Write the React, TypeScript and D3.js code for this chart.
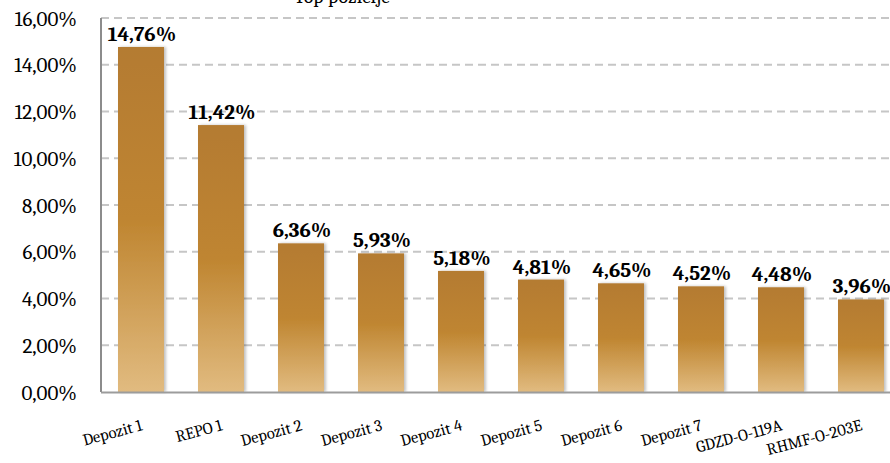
import React from "react";
import * as d3 from "d3";

const categories = ["Depozit 1", "REPO 1", "Depozit 2", "Depozit 3", "Depozit 4", "Depozit 5", "Depozit 6", "Depozit 7", "GDZD-O-119A", "RHMF-O-203E"];
const values = [14.76, 11.42, 6.36, 5.93, 5.18, 4.81, 4.65, 4.52, 4.48, 3.96];
const yTicks = [0, 2, 4, 6, 8, 10, 12, 14, 16];
const title = "Top pozicije";

const W = 890, H = 463;
const left = 101, right = 901, top = 18, bottom = 392;

const fmt = (v: number) => v.toFixed(2).replace(".", ",") + "%";

export default function App() {
  const x = d3.scaleBand<string>().domain(categories).range([left, right]).paddingInner(0.425).paddingOuter(0.2125);
  const y = d3.scaleLinear().domain([0, 16]).range([bottom, top]);
  const serif = "Cambria, 'DejaVu Serif', serif";
  return (
    <svg width={W} height={H} style={{ position: "absolute", left: 0, top: 0, background: "#fff" }}>
      <defs>
        <linearGradient id="barGrad" x1="0" y1="0" x2="0" y2="1">
          <stop offset="0%" stopColor="#b47b32" />
          <stop offset="50%" stopColor="#bf8530" />
          <stop offset="100%" stopColor="#e1bb80" />
        </linearGradient>
        <filter id="sh" x="-20%" y="-5%" width="140%" height="110%">
          <feGaussianBlur in="SourceAlpha" stdDeviation="1.5" />
          <feOffset dx="2" dy="0" result="b" />
          <feComponentTransfer><feFuncA type="linear" slope="0.25" /></feComponentTransfer>
          <feMerge><feMergeNode /><feMergeNode in="SourceGraphic" /></feMerge>
        </filter>
      </defs>
      <text x={342} y={3} textAnchor="middle" fontFamily={serif} fontSize={20} fill="#000">{title}</text>
      {yTicks.filter(t => t > 0).map(t => (
        <line key={t} x1={left} x2={W} y1={y(t)} y2={y(t)} stroke="#c6c6c6" strokeWidth={2} strokeDasharray="8,5" />
      ))}
      {categories.map((c, i) => (
        <rect key={c} x={x(c)} y={y(values[i])} width={x.bandwidth()} height={bottom - y(values[i])} fill="url(#barGrad)" filter="url(#sh)" />
      ))}
      <line x1={left} x2={left} y1={top} y2={bottom} stroke="#8c8c8c" strokeWidth={2} />
      <line x1={left} x2={W} y1={bottom + 0.5} y2={bottom + 0.5} stroke="#9c9c9c" strokeWidth={2} />
      {yTicks.map(t => (
        <text key={t} x={77} y={y(t)} dy="0.36em" textAnchor="end" fontFamily={serif} fontSize={21} fill="#000">{fmt(t)}</text>
      ))}
      {categories.map((c, i) => (
        <text key={c} x={(x(c) as number) + x.bandwidth() / 2 + 1} y={y(values[i]) - 6} textAnchor="middle" fontFamily={serif} fontWeight="bold" fontSize={21} fill="#000">{fmt(values[i])}</text>
      ))}
      {categories.map((c) => {
        const cx = (x(c) as number) + x.bandwidth() / 2 + 2;
        const cy = 430;
        return (
          <text key={c} x={cx} y={cy} textAnchor="end" transform={`rotate(-15,${cx},${cy})`} fontFamily={serif} fontSize={16.5} fill="#000">{c}</text>
        );
      })}
    </svg>
  );
}
